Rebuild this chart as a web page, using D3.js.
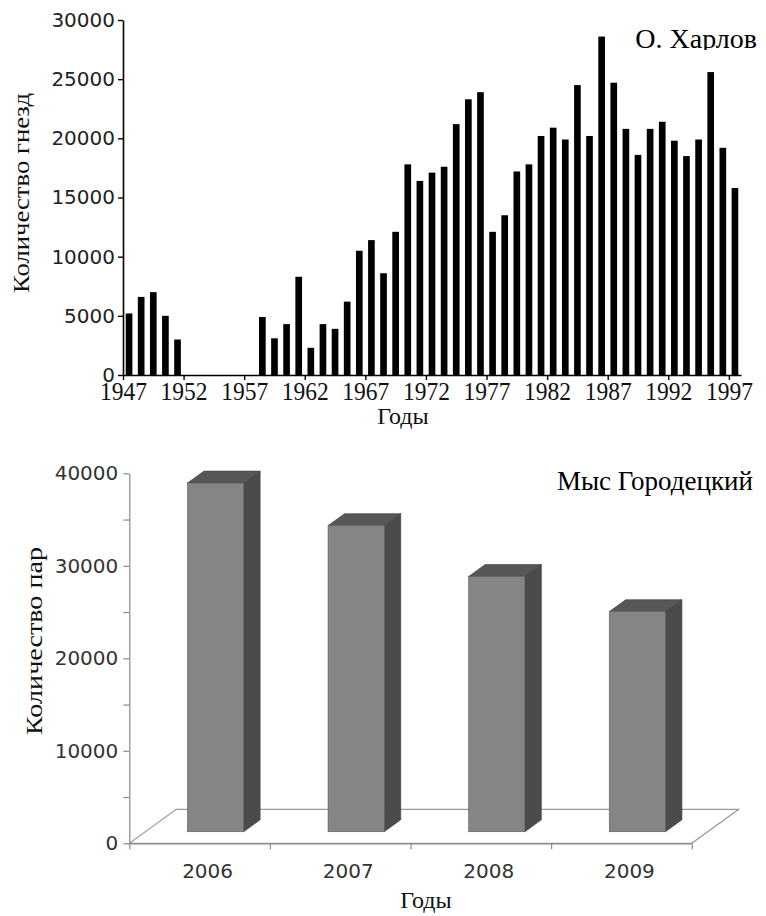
<!DOCTYPE html>
<html>
<head>
<meta charset="utf-8">
<script src="https://cdn.jsdelivr.net/npm/d3@7/dist/d3.min.js"></script>
<style>
  body { margin: 0; background: #fff; }
  svg { display: block; }
</style>
</head>
<body>
<svg id="chart" width="766" height="916"></svg>
<script>
// ---------- Data ----------
// Kharlov Island: number of nests by year (null = no count that year)
const kharlovYears = d3.range(1947, 1998);
const kharlovNests = [
  5200, 6600, 7000, 5000, 3000,               // 1947-1951
  null, null, null, null, null, null,         // 1952-1957
  4900, 3100, 4300, 8300, 2300, 4300, 3900, 6200, 10500, 11400,   // 1958-1967
  8600, 12100, 17800, 16400, 17100, 17600, 21200, 23300, 23900, 12100, // 1968-1977
  13500, 17200, 17800, 20200, 20900, 19900, 24500, 20200, 28600, 24700, // 1978-1987
  20800, 18600, 20800, 21400, 19800, 18500, 19900, 25600, 19200, 15800  // 1988-1997
];
const kharlovYTicks = [0, 5000, 10000, 15000, 20000, 25000, 30000];
const kharlovXTicks = [1947, 1952, 1957, 1962, 1967, 1972, 1977, 1982, 1987, 1992, 1997];

// Cape Gorodetsky: number of pairs by year
const capeYears = ["2006", "2007", "2008", "2009"];
const capePairs = [37700, 33100, 27600, 23800];
const capeYTicks = [0, 5000, 10000, 15000, 20000, 25000, 30000, 35000, 40000];
const capeYLabels = [0, 10000, 20000, 30000, 40000];

const svg = d3.select("#chart");
const serif = "'Liberation Serif', 'Times New Roman', serif";
const sans = "'DejaVu Sans', Verdana, sans-serif";

// ---------- Top chart: Kharlov ----------
const t = { left: 123, right: 741, bottom: 375, top: 20 };
const xBand = d3.scaleBand().domain(kharlovYears)
  .range([t.left, t.right]).paddingInner(0.45).paddingOuter(0.225);
const xYear = d3.scaleLinear().domain([1947, 1998]).range([t.left, t.right]);
const yTop = d3.scaleLinear().domain([0, 30000]).range([t.bottom, t.top]);

const topData = kharlovYears.map((y, i) => ({ year: y, v: kharlovNests[i] }))
  .filter(d => d.v != null);

svg.append("g").selectAll("rect").data(topData).join("rect")
  .attr("x", d => xBand(d.year))
  .attr("width", xBand.bandwidth())
  .attr("y", d => yTop(d.v))
  .attr("height", d => yTop(0) - yTop(d.v))
  .attr("fill", "#000");

const gyTop = svg.append("g").attr("transform", `translate(${t.left},0)`)
  .call(d3.axisLeft(yTop).tickValues(kharlovYTicks).tickSize(5).tickSizeOuter(0)
    .tickPadding(3).tickFormat(d3.format("d")));
gyTop.select(".domain").attr("stroke", "#000").attr("stroke-width", 1.6);
gyTop.selectAll(".tick line").attr("stroke", "#000").attr("stroke-width", 1.4);
gyTop.selectAll("text").attr("font-family", sans).attr("font-size", 20).attr("fill", "#222");

const gxTop = svg.append("g").attr("transform", `translate(0,${t.bottom})`)
  .call(d3.axisBottom(xYear).tickValues(kharlovXTicks).tickSize(5).tickSizeOuter(0)
    .tickFormat(d => String(d)));
gxTop.select(".domain").attr("stroke", "#000").attr("stroke-width", 1.6);
gxTop.selectAll(".tick line").attr("stroke", "#000").attr("stroke-width", 1.4);
gxTop.selectAll("text")
  .attr("font-family", serif).attr("font-size", 25).attr("fill", "#111")
  .attr("y", 25).attr("dy", null)
  .attr("textLength", 47).attr("lengthAdjust", "spacingAndGlyphs");

svg.append("text")
  .attr("transform", "translate(29,193) rotate(-90)")
  .attr("text-anchor", "middle")
  .attr("font-family", serif).attr("font-size", 23).attr("fill", "#111")
  .attr("textLength", 200).attr("lengthAdjust", "spacingAndGlyphs")
  .text("Количество гнезд");

svg.append("text")
  .attr("x", 403).attr("y", 424)
  .attr("text-anchor", "middle")
  .attr("font-family", serif).attr("font-size", 24).attr("fill", "#111")
  .text("Годы");

// title, cut off just below the baseline
svg.append("clipPath").attr("id", "titleClip")
  .append("rect").attr("x", 600).attr("y", 0).attr("width", 166).attr("height", 50);
svg.append("text")
  .attr("clip-path", "url(#titleClip)")
  .attr("x", 757).attr("y", 48)
  .attr("text-anchor", "end")
  .attr("font-family", serif).attr("font-size", 28).attr("fill", "#000")
  .text("О. Харлов");

// ---------- Bottom chart: Cape Gorodetsky (3D columns) ----------
const b = { left: 129.3, right: 691.7, bottom: 843.3, top: 473.3 };
const depth = { dx: 47, dy: -34 };      // floor depth vector
const t0 = 0.34, t1 = 0.69;             // bar front / back within floor depth

const xCape = d3.scaleBand().domain(capeYears)
  .range([b.left, b.right]).paddingInner(0.6).paddingOuter(0.3);
const xCapeEdge = d3.scaleLinear().domain([0, capeYears.length]).range([b.left, b.right]);
const yCape = d3.scaleLinear().domain([0, 40000]).range([b.bottom, b.top]);

// floor
const floorPts = [
  [b.left, b.bottom], [b.right, b.bottom],
  [b.right + depth.dx, b.bottom + depth.dy], [b.left + depth.dx, b.bottom + depth.dy]
];
svg.append("polygon")
  .attr("points", floorPts.map(p => p.join(",")).join(" "))
  .attr("fill", "none").attr("stroke", "#9a9a9a").attr("stroke-width", 1.2);

// columns
const capeData = capeYears.map((c, i) => ({ year: c, v: capePairs[i] }));
const bw = xCape.bandwidth();
const ddx = depth.dx * (t1 - t0), ddy = depth.dy * (t1 - t0);
const bars = svg.append("g").selectAll("g").data(capeData).join("g");
bars.each(function (d) {
  const g = d3.select(this);
  const x0 = xCape(d.year) + depth.dx * t0;
  const x1 = x0 + bw;
  const yb = yCape(0) + depth.dy * t0;
  const yt = yCape(d.v) + depth.dy * t0;
  g.append("polygon")
    .attr("points", [[x1, yb], [x1, yt], [x1 + ddx, yt + ddy], [x1 + ddx, yb + ddy]].map(p => p.join(",")).join(" "))
    .attr("fill", "#4b4b4b").attr("stroke", "#3c3c3c").attr("stroke-width", 0.6);
  g.append("polygon")
    .attr("points", [[x0, yt], [x1, yt], [x1 + ddx, yt + ddy], [x0 + ddx, yt + ddy]].map(p => p.join(",")).join(" "))
    .attr("fill", "#575757").attr("stroke", "#3c3c3c").attr("stroke-width", 0.6);
  g.append("rect")
    .attr("x", x0).attr("y", yt).attr("width", bw).attr("height", yb - yt)
    .attr("fill", "#858585").attr("stroke", "#5a5a5a").attr("stroke-width", 0.6);
});

const gyCape = svg.append("g").attr("transform", `translate(${b.left},0)`)
  .call(d3.axisLeft(yCape).tickValues(capeYTicks).tickSize(6).tickSizeOuter(0)
    .tickPadding(5).tickFormat(d => capeYLabels.includes(d) ? String(d) : ""));
gyCape.select(".domain").attr("stroke", "#8a8a8a").attr("stroke-width", 1.2);
gyCape.selectAll(".tick line").attr("stroke", "#8a8a8a").attr("stroke-width", 1.2);
gyCape.selectAll("text").attr("font-family", sans).attr("font-size", 20).attr("fill", "#333");

const gxCape = svg.append("g").attr("transform", `translate(0,${b.bottom})`)
  .call(d3.axisBottom(xCapeEdge).tickValues(d3.range(0, capeYears.length + 1))
    .tickSize(6).tickSizeOuter(0).tickFormat(""));
gxCape.select(".domain").attr("stroke", "#8a8a8a").attr("stroke-width", 1.2);
gxCape.selectAll(".tick line").attr("stroke", "#8a8a8a").attr("stroke-width", 1.2);

svg.append("g").selectAll("text").data(capeYears).join("text")
  .attr("x", d => xCape(d) + bw / 2 + 8)
  .attr("y", 878)
  .attr("text-anchor", "middle")
  .attr("font-family", sans).attr("font-size", 20).attr("fill", "#333")
  .text(d => d);

svg.append("text")
  .attr("transform", "translate(42,641) rotate(-90)")
  .attr("text-anchor", "middle")
  .attr("font-family", serif).attr("font-size", 23).attr("fill", "#111")
  .attr("textLength", 188).attr("lengthAdjust", "spacingAndGlyphs")
  .text("Количество пар");

svg.append("text")
  .attr("x", 426).attr("y", 908)
  .attr("text-anchor", "middle")
  .attr("font-family", serif).attr("font-size", 24).attr("fill", "#111")
  .text("Годы");

svg.append("text")
  .attr("x", 753).attr("y", 490)
  .attr("text-anchor", "end")
  .attr("font-family", serif).attr("font-size", 27).attr("fill", "#000")
  .text("Мыс Городецкий");
</script>
</body>
</html>
